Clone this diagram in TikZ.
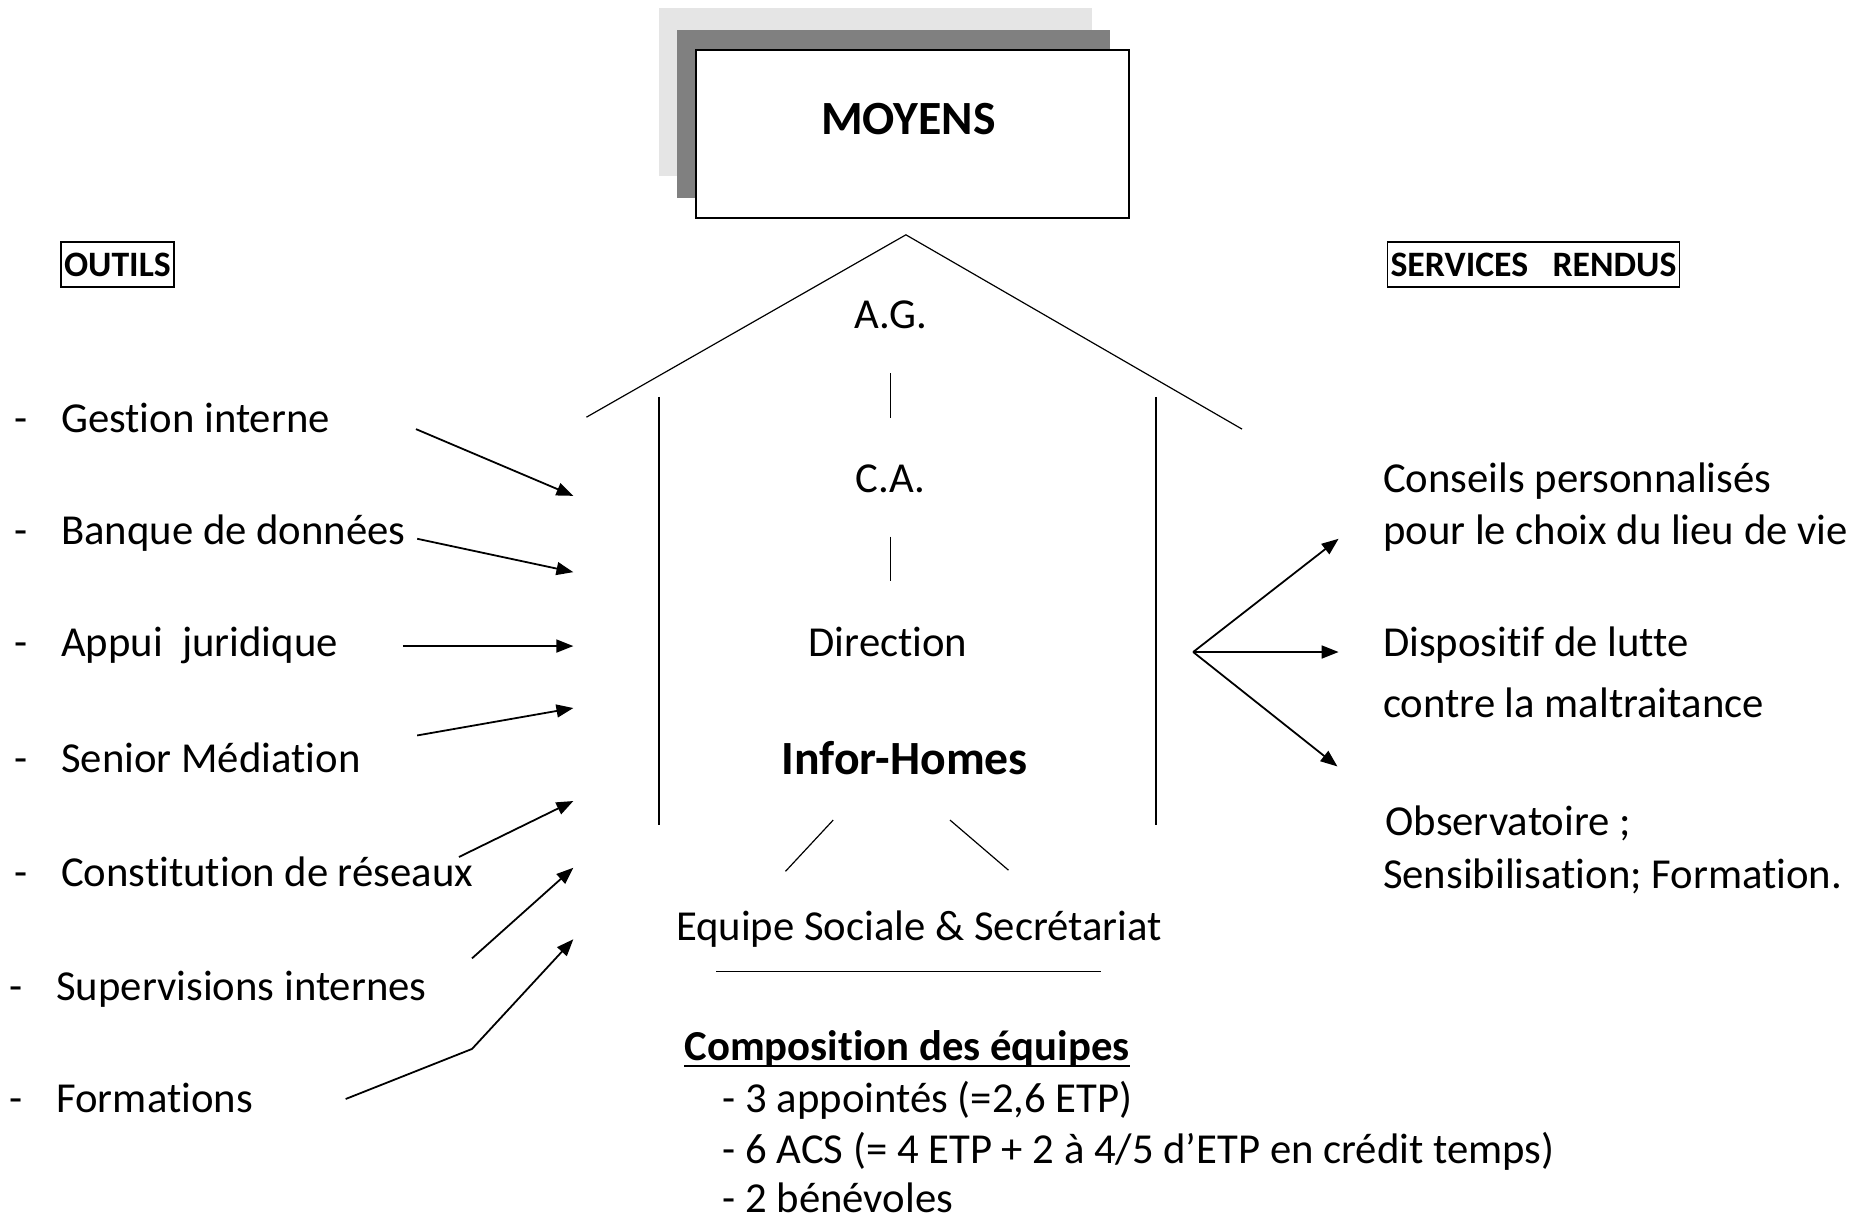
\documentclass[tikz,border=0pt]{standalone}
\usepackage{fontspec}
\setmainfont{Carlito}[Ligatures={NoCommon}]
\usetikzlibrary{arrows.meta,positioning}

\tikzset{
  txt/.style={font=\fontsize{21.5}{25}\selectfont, inner sep=0pt, anchor=base west},
  titre/.style={font=\fontsize{24}{28}\selectfont\bfseries, inner sep=0pt, anchor=base},
  cadre/.style={draw, font=\fontsize{18}{22}\selectfont\bfseries, inner xsep=1.5pt, minimum height=22.8pt, line width=0.8pt},
  fleche/.style={line width=0.9pt, -{Triangle[length=8.5pt,width=6.5pt]}},
  trait/.style={line width=0.6pt},
}

\begin{document}
\begin{tikzpicture}[x=0.6pt, y=-0.6pt]
    \useasboundingbox (0,0) rectangle (1568,1023);

    % MOYENS
    \fill[black!10] (553,7) rectangle (916,148);
    \fill[black!50] (568,25) rectangle (931,166);
    \draw[fill=white, line width=1pt] (584,42) rectangle (947,183);
    \node[titre] (moyens) at (762,113) {MOYENS};

    % Roof and walls
    \draw[trait] (492,350) -- (760,197) -- (1042,360);
    \draw[line width=0.8pt] (553,333) -- (553,692);
    \draw[line width=0.8pt] (970,333) -- (970,692);

    \node[cadre] (outils) at (98.5,222) {OUTILS};
    \node[cadre] (services) at (1286.5,222) {SERVICES\ \ \ RENDUS};

    % Hierarchy
    \node[txt, anchor=base] (ag) at (747,276) {A.G.};
    \node[txt, anchor=base] (ca) at (747,413) {C.A.};
    \node[txt, anchor=base] (dir) at (745,551) {Direction};
    \node[titre] (ih) at (759,650) {Infor-Homes};
    \draw[trait, shorten <=22pt, shorten >=23pt] (ag) -- (ca);
    \draw[trait, shorten <=22pt, shorten >=23pt] (ca) -- (ca |- dir.north);

    \coordinate (bl1) at (699,688);
    \coordinate (bl2) at (659,731);
    \coordinate (br1) at (797,688);
    \coordinate (br2) at (846,730);
    \draw[trait] (bl1) -- (bl2);
    \draw[trait] (br1) -- (br2);

    \node[txt, anchor=base] (equipe) at (771,789) {Equipe Sociale \& Secrétariat};
    \draw[trait] (601,815) -- (924,815);

    % Composition des equipes
    \node[txt, font=\fontsize{21.5}{25}\selectfont\bfseries] (compo) at (574,890) {Composition des équipes};
    \draw[line width=0.8pt] ([yshift=-2.5pt]compo.base west) -- ([yshift=-2.5pt]compo.base east);
    \foreach \i/\y/\t in {1/933/{- 3 appointés (=2,6 ETP)}, 2/976/{- 6 ACS (= 4 ETP + 2 à 4/5 d’ETP en crédit temps)}, 3/1017/{- 2 bénévoles}}
        \node[txt] (comp\i) at (606,\y) {\t};

    % Left side: outils
    \foreach \n/\x/\y/\t in {gest/51/363/Gestion interne, banq/51/457/Banque de données, appui/51/551/Appui\ \ juridique, senior/51/648/Senior Médiation, const/51/744/Constitution de réseaux, superv/47/839/Supervisions internes, form/47/933/Formations}
        \node[txt] (\n) at (\x,\y) {\llap{-\hspace{17pt}}\t};

    \foreach \i/\a/\b/\c/\d in {1/349/360/481/416, 2/350/452/481/480, 3/338/542/481/542, 4/350/617/481/594, 5/385/719/481/672, 6/396/804/481/728, 7/290/922/481/788} {
        \coordinate (src\i) at (\a,\b);
        \coordinate (dst\i) at (\c,\d);
    }
    \foreach \i in {1,...,6}
        \draw[fleche] (src\i) -- (dst\i);
    \coordinate (kink) at (396,880);
    \draw[fleche] (src7) -- (kink) -- (dst7);

    % Right side: services rendus
    \coordinate (fan) at (1001,547);
    \coordinate (r1) at (1123,452);
    \coordinate (r2) at (1123,547);
    \coordinate (r3) at (1122,643);
    \foreach \i in {1,2,3}
        \draw[fleche] (fan) -- (r\i);

    \node[txt] (cons1) at (1160,413) {Conseils personnalisés};
    \node[txt] (cons2) at (1160,457) {pour le choix du lieu de vie};
    \node[txt] (disp1) at (1160,551) {Dispositif de lutte};
    \node[txt] (disp2) at (1160,602) {contre la maltraitance};
    \node[txt] (obs1) at (1162,701) {Observatoire ;};
    \node[txt] (obs2) at (1160,745) {Sensibilisation; Formation.};
\end{tikzpicture}
\end{document}
